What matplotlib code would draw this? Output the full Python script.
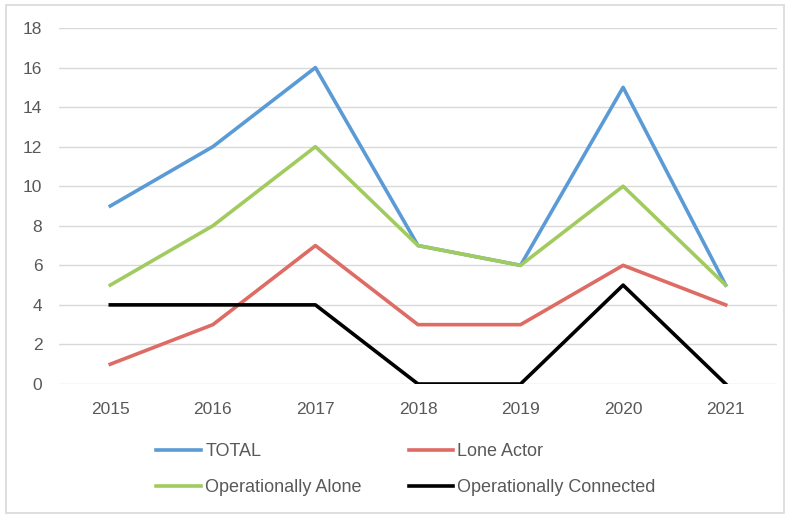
import matplotlib
matplotlib.use("Agg")
import numpy as np
from matplotlib import pyplot as plt
from matplotlib.patches import Rectangle

years = ["2015", "2016", "2017", "2018", "2019", "2020", "2021"]
total = [9, 12, 16, 7, 6, 15, 5]
lone_actor = [1, 3, 7, 3, 3, 6, 4]
op_alone = [5, 8, 12, 7, 6, 10, 5]
op_connected = [4, 4, 4, 0, 0, 5, 0]

plt.rcParams["font.family"] = ["Liberation Sans", "DejaVu Sans"]

fig = plt.figure(figsize=(7.9, 5.15), dpi=100)
ax = fig.add_axes([0.0747, 0.2544, 0.9088, 0.6912])

x = np.arange(len(years))
l_total, = ax.plot(x, total, color="#5B9BD5", lw=2.6, label="TOTAL")
l_lone, = ax.plot(x, lone_actor, color="#DE6B64", lw=2.6, label="Lone Actor")
l_alone, = ax.plot(x, op_alone, color="#A2CB5F", lw=2.6, label="Operationally Alone")
l_conn, = ax.plot(x, op_connected, color="black", lw=2.6, label="Operationally Connected")

ax.set_xlim(-0.5, len(years) - 0.5)
ax.set_ylim(0, 18)
ax.set_yticks(range(0, 19, 2))
ax.set_xticks(x)
ax.set_xticklabels(years)
ax.grid(axis="y", color="#D9D9D9", lw=1)
ax.set_axisbelow(True)
for s in ax.spines.values():
    s.set_visible(False)
ax.tick_params(length=0, labelsize=12.5, labelcolor="#595959")
ax.tick_params(axis="y", pad=12)
ax.tick_params(axis="x", pad=13)

fig.legend([l_total, l_alone, l_lone, l_conn],
           ["TOTAL", "Operationally Alone", "Lone Actor", "Operationally Connected"],
           ncol=2, loc="center", bbox_to_anchor=(0.514, 0.088), frameon=False,
           fontsize=13, labelcolor="#595959", handlelength=2.45, handletextpad=0.25,
           columnspacing=2.6, labelspacing=1.08)

# light chart border
fig.patches.append(Rectangle((0.008, 0.004), 0.985, 0.986, transform=fig.transFigure,
                             fill=False, edgecolor="#D9D9D9", lw=1.2))

plt.savefig("out.png", dpi=100)
